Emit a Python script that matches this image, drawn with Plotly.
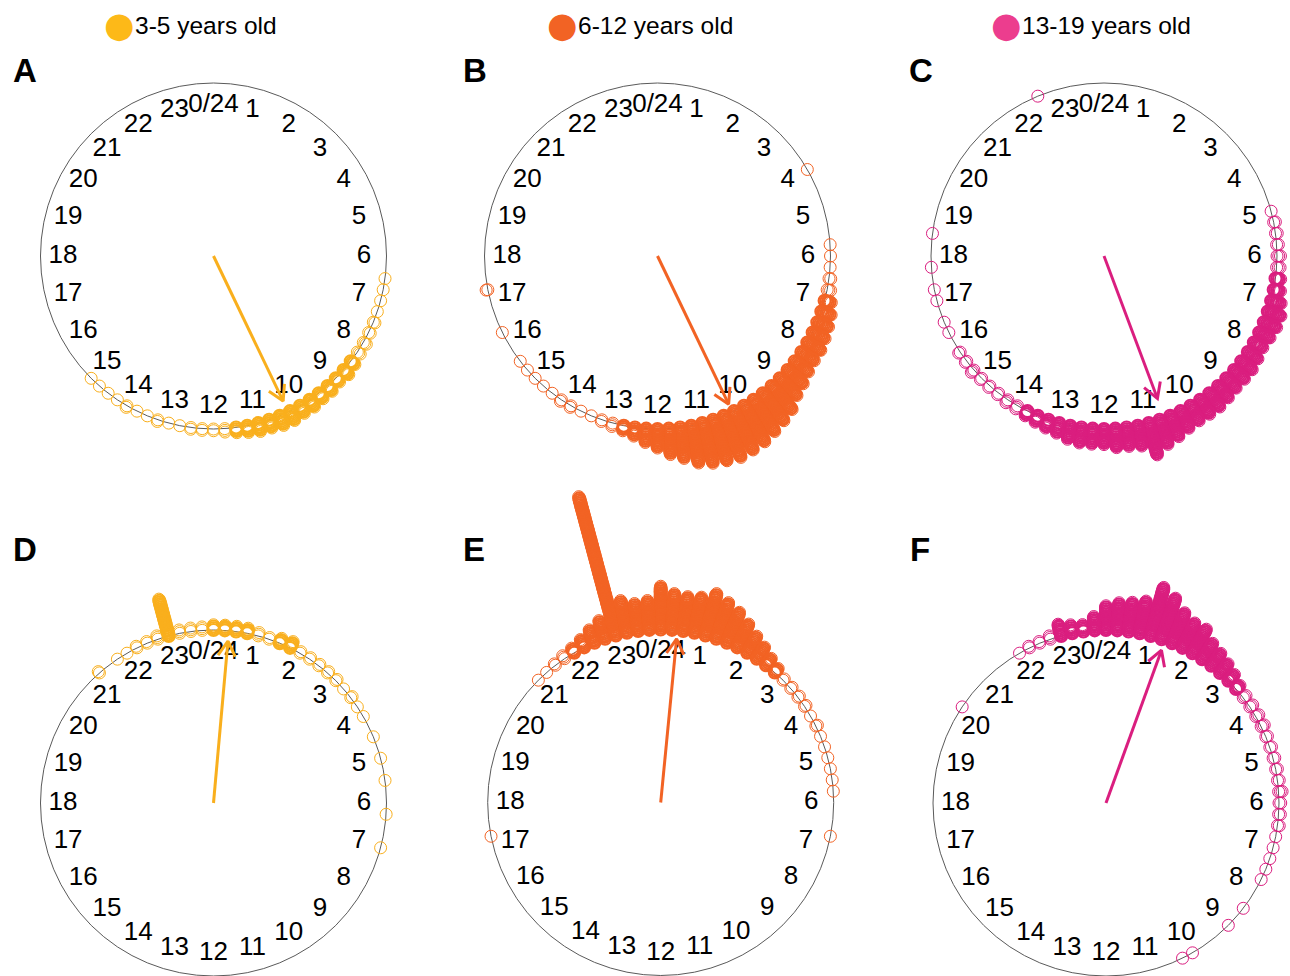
import math
import plotly.graph_objects as go

# ---------------- data ----------------
# counts of children per 15-minute bin (bin k is centred on hour k/4), 96 bins per panel
counts_A = [
    0, 0, 0, 0,   # 0h
    0, 0, 0, 0,   # 1h
    0, 0, 0, 0,   # 2h
    0, 0, 0, 0,   # 3h
    0, 0, 0, 0,   # 4h
    0, 0, 0, 0,   # 5h
    0, 0, 1, 1,   # 6h
    1, 1, 2, 2,   # 7h
    3, 3, 4, 5,   # 8h
    4, 5, 5, 6,   # 9h
    6, 7, 7, 6,   # 10h
    6, 5, 4, 3,   # 11h
    2, 2, 2, 1,   # 12h
    1, 2, 1, 1,   # 13h
    2, 1, 1, 1,   # 14h
    1, 0, 0, 0,   # 15h
    0, 0, 0, 0,   # 16h
    0, 0, 0, 0,   # 17h
    0, 0, 0, 0,   # 18h
    0, 0, 0, 0,   # 19h
    0, 0, 0, 0,   # 20h
    0, 0, 0, 0,   # 21h
    0, 0, 0, 0,   # 22h
    0, 0, 0, 0,   # 23h
]
counts_B = [
    0, 0, 0, 0,   # 0h
    0, 0, 0, 0,   # 1h
    0, 0, 0, 0,   # 2h
    0, 0, 0, 0,   # 3h
    1, 0, 0, 0,   # 4h
    0, 0, 0, 1,   # 5h
    1, 1, 2, 3,   # 6h
    5, 7, 8, 9,   # 7h
    10, 10, 11, 13,  # 8h
    15, 19, 21, 23,  # 9h
    25, 26, 27, 26,  # 10h
    25, 23, 19, 16,  # 11h
    12, 9, 6, 4,  # 12h
    3, 2, 1, 1,   # 13h
    2, 2, 1, 1,   # 14h
    1, 1, 1, 0,   # 15h
    0, 1, 0, 0,   # 16h
    0, 2, 0, 0,   # 17h
    0, 0, 0, 0,   # 18h
    0, 0, 0, 0,   # 19h
    0, 0, 0, 0,   # 20h
    0, 0, 0, 0,   # 21h
    0, 0, 0, 0,   # 22h
    0, 0, 0, 0,   # 23h
]
counts_C = [
    0, 0, 0, 0,   # 0h
    0, 0, 0, 0,   # 1h
    0, 0, 0, 0,   # 2h
    0, 0, 0, 0,   # 3h
    0, 0, 0, 0,   # 4h
    1, 2, 2, 2,   # 5h
    3, 3, 4, 5,   # 6h
    7, 9, 9, 8,   # 7h
    7, 8, 9, 9,   # 8h
    9, 10, 11, 11,  # 9h
    11, 12, 14, 16,  # 10h
    20, 13, 12, 12,  # 11h
    10, 10, 10, 9,   # 12h
    7, 6, 5, 4,   # 13h
    3, 3, 2, 2,   # 14h
    2, 3, 2, 2,   # 15h
    0, 1, 1, 0,   # 16h
    1, 1, 0, 1,   # 17h
    0, 0, 1, 0,   # 18h
    0, 0, 0, 0,   # 19h
    0, 0, 0, 0,   # 20h
    0, 0, 0, 0,   # 21h
    0, 0, 1, 0,   # 22h
    0, 0, 0, 0,   # 23h
]
counts_D = [
    4, 4, 4, 4,   # 0h
    3, 2, 4, 5,   # 1h
    2, 2, 2, 2,   # 2h
    2, 1, 2, 1,   # 3h
    1, 0, 1, 0,   # 4h
    1, 0, 1, 0,   # 5h
    0, 1, 0, 0,   # 6h
    1, 0, 0, 0,   # 7h
    0, 0, 0, 0,   # 8h
    0, 0, 0, 0,   # 9h
    0, 0, 0, 0,   # 10h
    0, 0, 0, 0,   # 11h
    0, 0, 0, 0,   # 12h
    0, 0, 0, 0,   # 13h
    0, 0, 0, 0,   # 14h
    0, 0, 0, 0,   # 15h
    0, 0, 0, 0,   # 16h
    0, 0, 0, 0,   # 17h
    0, 0, 0, 0,   # 18h
    0, 0, 0, 0,   # 19h
    0, 0, 0, 0,   # 20h
    0, 2, 0, 1,   # 21h
    1, 2, 2, 3,   # 22h
    23, 3, 3, 3,  # 23h
]
counts_E = [
    26, 22, 21, 22,  # 0h
    26, 23, 20, 16,  # 1h
    12, 9, 6, 4,  # 2h
    2, 2, 2, 2,   # 3h
    1, 2, 1, 1,   # 4h
    1, 1, 1, 1,   # 5h
    0, 0, 0, 1,   # 6h
    0, 0, 0, 0,   # 7h
    0, 0, 0, 0,   # 8h
    0, 0, 0, 0,   # 9h
    0, 0, 0, 0,   # 10h
    0, 0, 0, 0,   # 11h
    0, 0, 0, 0,   # 12h
    0, 0, 0, 0,   # 13h
    0, 0, 0, 0,   # 14h
    0, 0, 0, 0,   # 15h
    0, 0, 0, 0,   # 16h
    0, 1, 0, 0,   # 17h
    0, 0, 0, 0,   # 18h
    0, 0, 0, 0,   # 19h
    0, 0, 0, 0,   # 20h
    1, 1, 2, 3,   # 21h
    4, 6, 9, 12,  # 22h
    84, 20, 17, 18,  # 23h
]
counts_F = [
    15, 17, 18, 20,  # 0h
    30, 26, 20, 17,  # 1h
    17, 12, 10, 8,   # 2h
    6, 4, 3, 3,   # 3h
    3, 3, 2, 2,   # 4h
    2, 2, 2, 3,   # 5h
    2, 2, 2, 1,   # 6h
    1, 1, 1, 1,   # 7h
    0, 0, 1, 0,   # 8h
    1, 0, 0, 0,   # 9h
    1, 1, 0, 0,   # 10h
    0, 0, 0, 0,   # 11h
    0, 0, 0, 0,   # 12h
    0, 0, 0, 0,   # 13h
    0, 0, 0, 0,   # 14h
    0, 0, 0, 0,   # 15h
    0, 0, 0, 0,   # 16h
    0, 0, 0, 0,   # 17h
    0, 0, 0, 0,   # 18h
    0, 0, 0, 0,   # 19h
    0, 1, 0, 0,   # 20h
    0, 0, 0, 0,   # 21h
    1, 2, 2, 3,   # 22h
    8, 6, 5, 9,   # 23h
]

panel_letters = ["A", "B", "C", "D", "E", "F"]
panel_counts = [counts_A, counts_B, counts_C, counts_D, counts_E, counts_F]
# mean direction (hours) and mean resultant length of each panel
mean_hour = [10.29, 10.29, 10.63, 0.34, 0.37, 1.33]
mean_length = [0.93, 0.95, 0.88, 0.94, 0.95, 0.94]

group_names = ["3-5 years old", "6-12 years old", "13-19 years old"]
group_colors = ["#F9AF1D", "#F26324", "#DA1E7F"]
legend_colors = ["#FDB918", "#F26324", "#EC3D8E"]

hour_labels = ["0/24"] + [str(h) for h in range(1, 24)]
hour_values = list(range(24))

# ---------------- layout helpers ----------------
W, H = 1290, 976
R_PX = 173.0                        # pixels per unit radius
centers = [(213.5, 256), (657.5, 256), (1104, 256),
           (213.5, 803), (660.7, 802.5), (1106, 803)]
# panel cells in pixels: (left, right, top, bottom)
cells = [(0, 436, 0, 480), (436, 882, 0, 480), (882, 1290, 0, 480),
         (0, 436, 480, 976), (436, 882, 480, 976), (882, 1290, 480, 976)]
STACK_SEP = 0.01
LABEL_R = 0.87
DEG_PER_HOUR = 15.0


def to_xy(r, hour):
    a = math.radians(hour * DEG_PER_HOUR)   # clockwise from 12 o'clock
    return r * math.sin(a), r * math.cos(a)


fig = go.Figure()
layout_axes = {}
shapes = []

for i, (letter, counts) in enumerate(zip(panel_letters, panel_counts)):
    n_ax = "" if i == 0 else str(i + 1)
    xa, ya = f"x{n_ax}", f"y{n_ax}"
    color = group_colors[i % 3]
    cx, cy = centers[i]
    l, r, t, b = cells[i]
    layout_axes[f"xaxis{n_ax}"] = dict(
        domain=[l / W, r / W], range=[(l - cx) / R_PX, (r - cx) / R_PX],
        visible=False, showgrid=False, zeroline=False, fixedrange=True, anchor=ya)
    layout_axes[f"yaxis{n_ax}"] = dict(
        domain=[(H - b) / H, (H - t) / H], range=[(cy - b) / R_PX, (cy - t) / R_PX],
        visible=False, showgrid=False, zeroline=False, fixedrange=True, anchor=xa)

    # the unit circle of the clock face
    shapes.append(dict(type="circle", xref=xa, yref=ya, x0=-1, y0=-1, x1=1, y1=1,
                       line=dict(color="#5a5a5a", width=1), layer="below"))

    # stacked points (inner points of tall stacks get a heavier outline so the pile reads solid)
    xs, ys, lws = [], [], []
    for k, n in enumerate(counts):
        for j in range(n):
            px, py = to_xy(1 + j * STACK_SEP, k * 0.25)
            xs.append(px)
            ys.append(py)
            lws.append(2.1 if (n >= 4 and j < n - 1) else 1.0)
    fig.add_trace(go.Scatter(
        x=xs, y=ys, mode="markers", xaxis=xa, yaxis=ya, cliponaxis=False,
        marker=dict(symbol="circle-open", size=12, color=color, line=dict(width=lws)),
        showlegend=False, hoverinfo="skip"))

    # hour labels
    lx, ly = zip(*[to_xy(LABEL_R, h) for h in hour_values])
    fig.add_trace(go.Scatter(
        x=list(lx), y=list(ly), mode="text", text=hour_labels,
        textposition="middle center",
        textfont=dict(family="Liberation Sans, Arial", size=26, color="black"),
        xaxis=xa, yaxis=ya, cliponaxis=False, showlegend=False, hoverinfo="skip"))

    # mean direction arrow
    a = math.radians(mean_hour[i] * DEG_PER_HOUR)
    rho = mean_length[i]
    tx, ty = rho * math.sin(a), rho * math.cos(a)
    head = 0.1
    bx, by = [], []
    for s in (-1, 1):
        bb = a + s * math.radians(30)
        bx.append(tx - head * math.sin(bb))
        by.append(ty - head * math.cos(bb))
    fig.add_trace(go.Scatter(
        x=[0, tx, None, bx[0], tx, bx[1]], y=[0, ty, None, by[0], ty, by[1]],
        mode="lines", line=dict(color=color, width=3), xaxis=xa, yaxis=ya,
        cliponaxis=False, showlegend=False, hoverinfo="skip"))

annotations = []
letter_pos = [(11, 70), (461, 70), (907, 70), (11, 549), (461, 549), (908, 549)]
for letter, (lx, ly) in zip(panel_letters, letter_pos):
    annotations.append(dict(text=f"<b>{letter}</b>", x=lx / W, y=1 - ly / H,
                            xref="paper", yref="paper", xanchor="left", yanchor="middle",
                            showarrow=False,
                            font=dict(family="Liberation Sans, Arial", size=33, color="black")))

legend_pos = [119, 562, 1006]
for name, col, lx in zip(group_names, legend_colors, legend_pos):
    annotations.append(dict(text="●", x=lx / W, y=1 - 25 / H, xref="paper", yref="paper",
                            xanchor="center", yanchor="middle", showarrow=False,
                            font=dict(family="DejaVu Sans", size=35, color=col)))
    annotations.append(dict(text=name, x=(lx + 14) / W, y=1 - 25 / H, xref="paper",
                            yref="paper", xanchor="left", yanchor="middle", showarrow=False,
                            font=dict(family="Liberation Sans, Arial", size=24.5, color="black")))

fig.update_layout(
    width=W, height=H, margin=dict(l=0, r=0, t=0, b=0),
    paper_bgcolor="white", plot_bgcolor="rgba(0,0,0,0)",
    showlegend=False, annotations=annotations, shapes=shapes, **layout_axes)

fig.write_html("out.html")
